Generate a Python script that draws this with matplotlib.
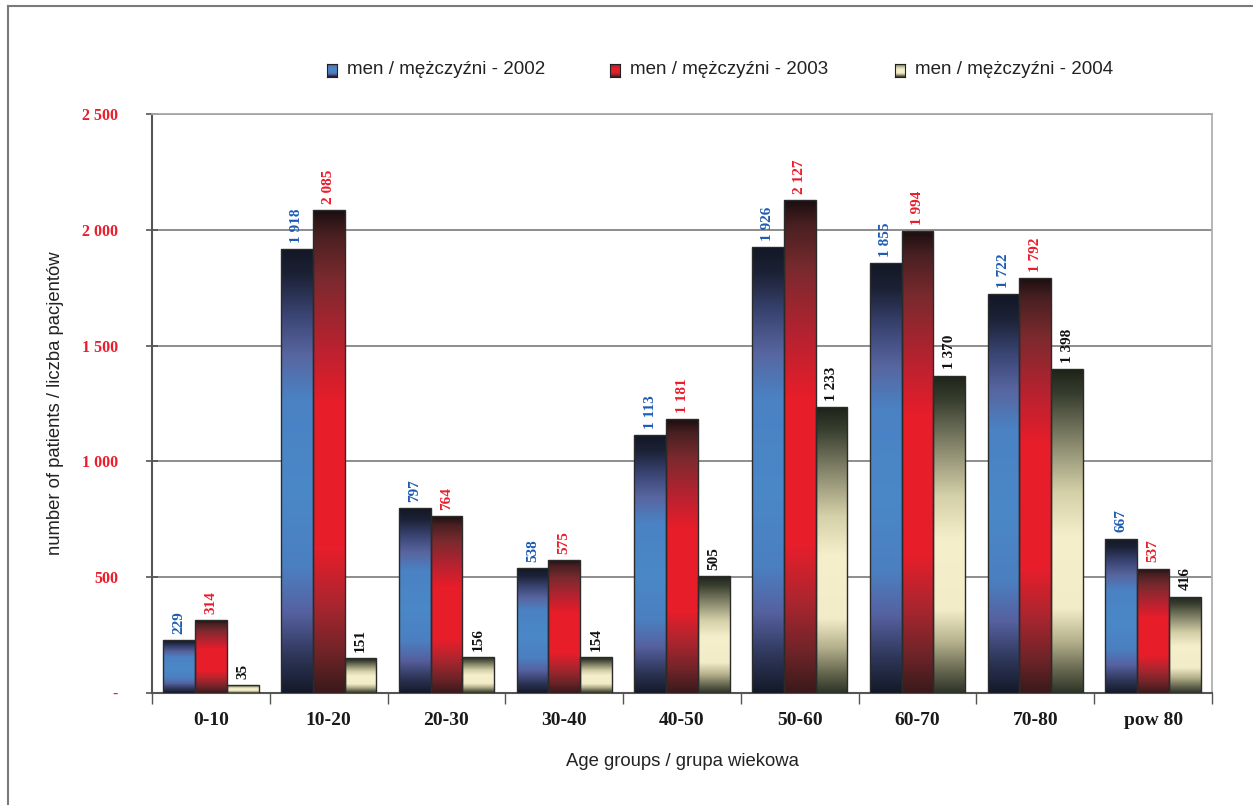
import numpy as np
import matplotlib
matplotlib.use("Agg")
import matplotlib.pyplot as plt
from matplotlib.colors import LinearSegmentedColormap
from matplotlib.lines import Line2D

# ---- data -------------------------------------------------------------
age_groups = ["0-10", "10-20", "20-30", "30-40", "40-50",
              "50-60", "60-70", "70-80", "pow 80"]
men_2002 = [229, 1918, 797, 538, 1113, 1926, 1855, 1722, 667]
men_2003 = [314, 2085, 764, 575, 1181, 2127, 1994, 1792, 537]
men_2004 = [35, 151, 156, 154, 505, 1233, 1370, 1398, 416]
series_names = ["men / mężczyźni - 2002", "men / mężczyźni - 2003",
                "men / mężczyźni - 2004"]
y_ticks = [0, 500, 1000, 1500, 2000, 2500]

# ---- styling -----------------------------------------------------------
SERIF = ["Liberation Serif", "DejaVu Serif"]
SANS = ["Liberation Sans", "DejaVu Sans"]

# vertical shading for each series: position from bar top (0) to bottom (1)
shade_stops = [
    [(0.00, "#131726"), (0.06, "#1c2236"), (0.15, "#3b4574"), (0.24, "#5866a0"),
     (0.34, "#4a82c4"), (0.55, "#4a88c8"), (0.72, "#4b7fc0"), (0.82, "#5661a0"),
     (0.92, "#2e3658"), (1.00, "#141929")],
    [(0.00, "#1c0f10"), (0.05, "#4a2022"), (0.14, "#7a2a2e"), (0.28, "#b82230"),
     (0.40, "#e81d2a"), (0.70, "#e81e2b"), (0.82, "#a8262f"), (0.92, "#6e2428"),
     (1.00, "#3a1a1b")],
    [(0.00, "#1d2318"), (0.08, "#3a4030"), (0.22, "#84846a"), (0.38, "#d4d0a8"),
     (0.52, "#f6efcc"), (0.74, "#f3ecc8"), (0.84, "#b6b28e"), (0.93, "#676850"),
     (1.00, "#2e3428")],
]
cmaps = [LinearSegmentedColormap.from_list(f"shade{i}", s) for i, s in enumerate(shade_stops)]
label_colors = ["#1d5cb3", "#ec1c2a", "#111111"]


def shade_image(cmap, n=256):
    t = np.linspace(0, 1, n)
    return cmap(t)[:, None, :]


def fmt(v):
    return "-" if v == 0 else f"{v:,}".replace(",", " ")


fig = plt.figure(figsize=(12.53, 8.05), dpi=100)
ax = fig.add_axes([152 / 1253, 1 - 693 / 805, 1060 / 1253, 579 / 805])

x = np.arange(len(age_groups)) + 0.5
width = 0.27
series = [men_2002, men_2003, men_2004]
offsets = [-width, 0.0, width]

for vals, off, cmap, lc in zip(series, offsets, cmaps, label_colors):
    bars = ax.bar(x + off, vals, width=width, facecolor="none",
                  edgecolor="#2b2b2b", linewidth=1.0, zorder=4)
    img = shade_image(cmap)
    for rect, v in zip(bars, vals):
        x0, w, h = rect.get_x(), rect.get_width(), rect.get_height()
        im = ax.imshow(img, extent=[x0, x0 + w, 0, h], origin="upper",
                       aspect="auto", interpolation="bilinear", zorder=3)
        im.set_clip_path(rect)
        ax.annotate(fmt(v), (x0 + w / 2, h), xytext=(0, 4.5),
                    textcoords="offset points", rotation=90,
                    ha="center", va="bottom", fontsize=11,
                    fontweight="bold", family=SERIF, color=lc, zorder=5)

ax.set_xlim(0, len(age_groups))
ax.set_ylim(0, 2500)

# axes and grid
ax.set_yticks(y_ticks)
ax.set_yticklabels([fmt(t) for t in y_ticks])
ax.yaxis.grid(True, color="#7a7a7a", linewidth=1.2, zorder=1)
ax.set_axisbelow(True)
for lab in ax.get_yticklabels():
    lab.set_color("#ec1c2a")
    lab.set_fontweight("bold")
    lab.set_family(SERIF)
    lab.set_fontsize(11.5)
ax.tick_params(axis="y", direction="inout", length=9, width=1.2,
               color="#555555", pad=20)

ax.set_xticks(np.arange(len(age_groups) + 1), minor=False)
ax.set_xticklabels([])
ax.set_xticks(x, minor=True)
ax.set_xticklabels(age_groups, minor=True)
ax.tick_params(axis="x", which="major", direction="out", length=8,
               width=1.0, color="#555555")
ax.tick_params(axis="x", which="minor", length=0, pad=14)
for lab in ax.get_xticklabels(minor=True):
    lab.set_fontweight("bold")
    lab.set_family(SERIF)
    lab.set_fontsize(14)
    lab.set_color("#1a1a1a")

ax.spines["left"].set_color("#555555")
ax.spines["left"].set_linewidth(1.5)
ax.spines["bottom"].set_color("#555555")
ax.spines["bottom"].set_linewidth(1.5)
ax.spines["right"].set_color("#b0b0b0")
ax.spines["right"].set_linewidth(1.3)
ax.spines["top"].set_color("#a8a8a8")
ax.spines["top"].set_linewidth(1.3)

ax.set_ylabel("number of patients / liczba pacjentów", family=SANS,
              fontsize=13.3, color="#222222")
ax.set_xlabel("Age groups / grupa wiekowa", family=SANS, fontsize=13.3,
              color="#222222", labelpad=17)
ax.yaxis.set_label_coords(-0.083, 0.5)

# legend along the top
legend_x = [327, 610, 895]
for lx, name, cmap in zip(legend_x, series_names, cmaps):
    lax = fig.add_axes([lx / 1253, 1 - 77 / 805, 10 / 1253, 13 / 805])
    lax.imshow(shade_image(cmap)[40:], aspect="auto", extent=[0, 1, 0, 1])
    lax.set_xticks([])
    lax.set_yticks([])
    for s in lax.spines.values():
        s.set_color("#222222")
        s.set_linewidth(0.8)
    fig.text((lx + 20) / 1253, 1 - 70 / 805, name, family=SANS,
             fontsize=13.5, color="#222222", va="center", ha="left")

# outer frame (left and top edges)
fig.add_artist(Line2D([8 / 1253, 8 / 1253], [1 - 6 / 805, 0], color="#7a7a7a",
                      linewidth=1.5, transform=fig.transFigure))
fig.add_artist(Line2D([8 / 1253, 1], [1 - 6 / 805, 1 - 6 / 805], color="#7a7a7a",
                      linewidth=1.5, transform=fig.transFigure))

fig.savefig("out.png", dpi=100)
